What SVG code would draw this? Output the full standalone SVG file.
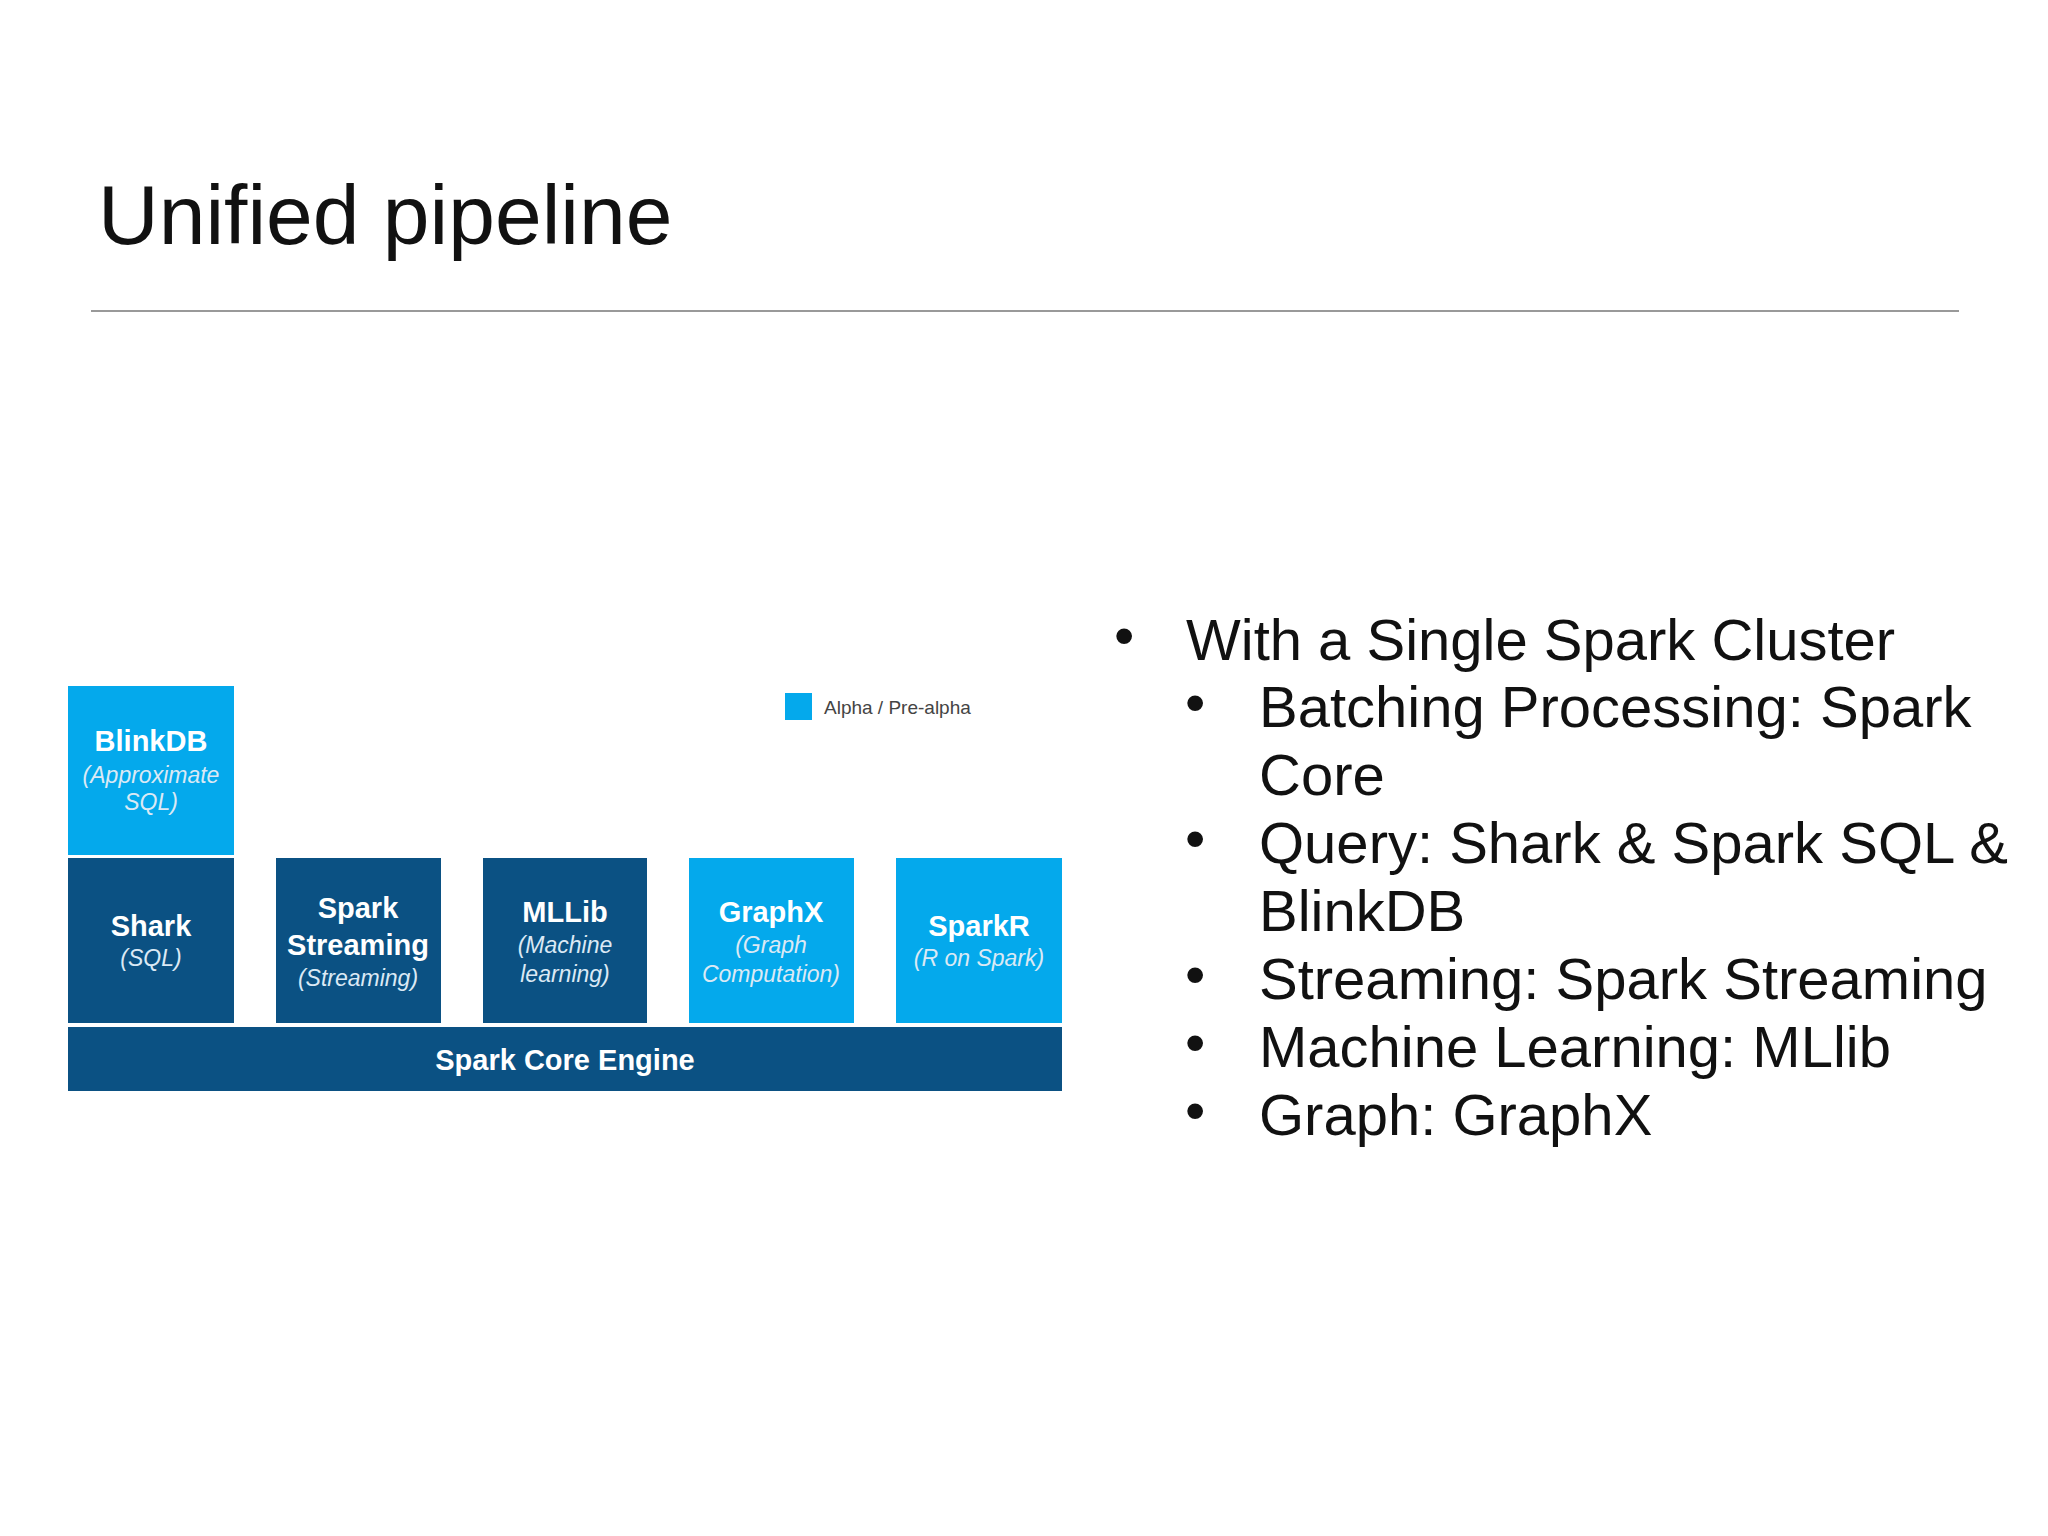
<svg xmlns="http://www.w3.org/2000/svg" width="2048" height="1536" viewBox="0 0 2048 1536">
<style>
text{font-family:"Liberation Sans",Arial,sans-serif}
.dark{fill:#0b5183}.light{fill:#04a9ec}
.b{fill:#fff;font-weight:bold;font-size:29px;text-anchor:middle}
.i{fill:#dbe9f5;font-style:italic;font-size:23px;text-anchor:middle}
.t{fill:#111;font-size:58px}
</style>
<rect width="2048" height="1536" fill="#fff"/>
<text x="98" y="244" font-size="84" fill="#111" style="font-family:'Liberation Sans',Arial,sans-serif">Unified pipeline</text>
<line x1="91" y1="311" x2="1959" y2="311" stroke="#999" stroke-width="2"/>
<g id="legend"><rect x="785" y="693" width="27" height="27" class="light"/><text x="824" y="714" font-size="19" fill="#444">Alpha / Pre-alpha</text></g>
<g id="blinkdb"><rect x="68" y="686" width="166" height="169" class="light"/><text x="151" y="751" class="b">BlinkDB</text><text x="151" y="783" class="i">(Approximate</text><text x="151" y="810" class="i">SQL)</text></g>
<g id="shark"><rect x="68" y="858" width="166" height="165" class="dark"/><text x="151" y="936" class="b">Shark</text><text x="151" y="966" class="i">(SQL)</text></g>
<g id="streaming"><rect x="276" y="858" width="165" height="165" class="dark"/><text x="358" y="918" class="b">Spark</text><text x="358" y="955" class="b">Streaming</text><text x="358" y="986" class="i">(Streaming)</text></g>
<g id="mllib"><rect x="483" y="858" width="164" height="165" class="dark"/><text x="565" y="922" class="b">MLLib</text><text x="565" y="953" class="i">(Machine</text><text x="565" y="982" class="i">learning)</text></g>
<g id="graphx"><rect x="689" y="858" width="165" height="165" class="light"/><text x="771" y="922" class="b">GraphX</text><text x="771" y="953" class="i">(Graph</text><text x="771" y="982" class="i">Computation)</text></g>
<g id="sparkr"><rect x="896" y="858" width="166" height="165" class="light"/><text x="979" y="936" class="b">SparkR</text><text x="979" y="966" class="i">(R on Spark)</text></g>
<g id="core"><rect x="68" y="1027" width="994" height="64" class="dark"/><text x="565" y="1070" class="b">Spark Core Engine</text></g>
<g id="connectors"/>
<g id="bullets">
<text x="1114" y="655" class="t" font-size="30">•</text>
<text x="1186" y="660" class="t">With a Single Spark Cluster</text>
<text x="1185" y="722" class="t" font-size="30">•</text>
<text x="1259" y="727" class="t">Batching Processing: Spark</text>
<text x="1259" y="795" class="t">Core</text>
<text x="1185" y="858" class="t" font-size="30">•</text>
<text x="1259" y="863" class="t">Query: Shark &amp; Spark SQL &amp;</text>
<text x="1259" y="931" class="t">BlinkDB</text>
<text x="1185" y="994" class="t" font-size="30">•</text>
<text x="1259" y="999" class="t">Streaming: Spark Streaming</text>
<text x="1185" y="1062" class="t" font-size="30">•</text>
<text x="1259" y="1067" class="t">Machine Learning: MLlib</text>
<text x="1185" y="1130" class="t" font-size="30">•</text>
<text x="1259" y="1135" class="t">Graph: GraphX</text>
</g>
</svg>
